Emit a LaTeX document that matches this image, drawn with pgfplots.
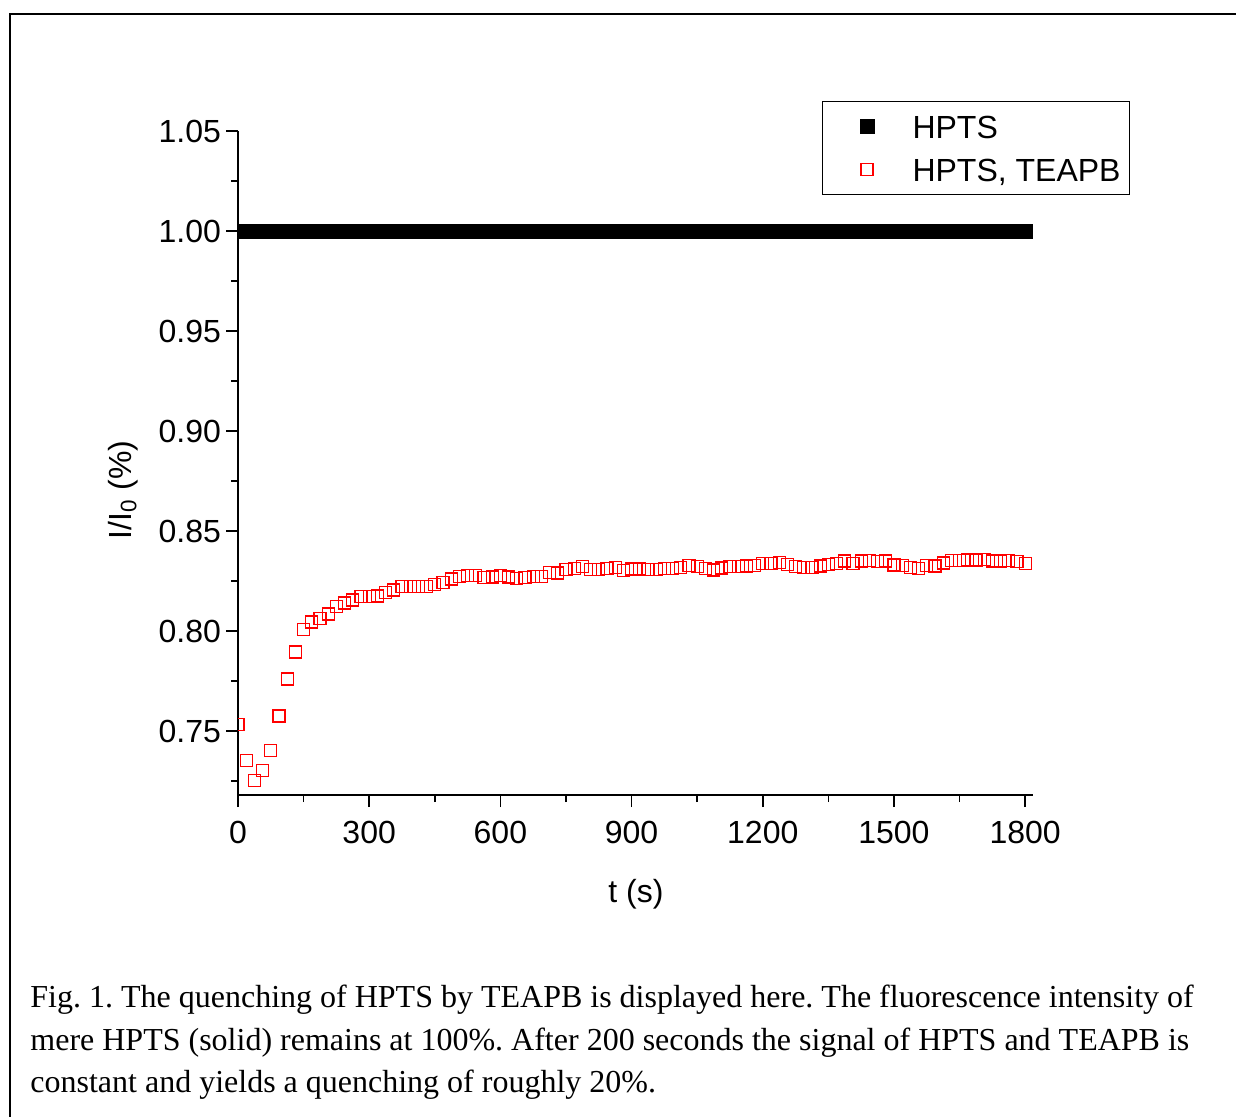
\documentclass[border=0pt]{standalone}
\usepackage{pgfplots}
\pgfplotsset{compat=1.18}
\usepackage{pgfplotstable}
\usepackage{fontspec}
\setmainfont{Liberation Serif}
\newfontfamily\arial{Liberation Sans}
\newcommand\lab{\arial\fontsize{16}{19}\selectfont}
\newcommand\capfont{\fontsize{16}{21.5}\selectfont}
\frenchspacing

\pgfplotstableread{
t hpts teapb
0 1 0.7533
18.75 1 0.7353
37.5 1 0.7253
56.25 1 0.7303
75 1 0.7403
93.75 1 0.7575
112.5 1 0.7760
131.25 1 0.7895
150 1 0.8007
168.75 1 0.8045
187.5 1 0.8062
206.25 1 0.8085
225 1 0.8121
243.75 1 0.8140
262.5 1 0.8155
281.25 1 0.8172
300 1 0.8172
318.75 1 0.8175
337.5 1 0.8192
356.25 1 0.8205
375 1 0.8222
393.75 1 0.8222
412.5 1 0.8222
431.25 1 0.8222
450 1 0.8232
468.75 1 0.8242
487.5 1 0.8260
506.25 1 0.8272
525 1 0.8277
543.75 1 0.8278
562.5 1 0.8268
581.25 1 0.8270
600 1 0.8278
618.75 1 0.8270
637.5 1 0.8263
656.25 1 0.8268
675 1 0.8273
693.75 1 0.8273
712.5 1 0.8292
731.25 1 0.8290
750 1 0.8308
768.75 1 0.8312
787.5 1 0.8322
806.25 1 0.8308
825 1 0.8308
843.75 1 0.8313
862.5 1 0.8317
881.25 1 0.8303
900 1 0.8310
918.75 1 0.8310
937.5 1 0.8308
956.25 1 0.8308
975 1 0.8313
993.75 1 0.8313
1012.5 1 0.8318
1031.25 1 0.8328
1050 1 0.8323
1068.75 1 0.8312
1087.5 1 0.8305
1106.25 1 0.8315
1125 1 0.8322
1143.75 1 0.8323
1162.5 1 0.8325
1181.25 1 0.8328
1200 1 0.8338
1218.75 1 0.8338
1237.5 1 0.8342
1256.25 1 0.8332
1275 1 0.8323
1293.75 1 0.8318
1312.5 1 0.8318
1331.25 1 0.8325
1350 1 0.8333
1368.75 1 0.8338
1387.5 1 0.8350
1406.25 1 0.8338
1425 1 0.8350
1443.75 1 0.8352
1462.5 1 0.8347
1481.25 1 0.8350
1500 1 0.8330
1518.75 1 0.8327
1537.5 1 0.8318
1556.25 1 0.8313
1575 1 0.8327
1593.75 1 0.8325
1612.5 1 0.8340
1631.25 1 0.8353
1650 1 0.8353
1668.75 1 0.8355
1687.5 1 0.8355
1706.25 1 0.8357
1725 1 0.8350
1743.75 1 0.8350
1762.5 1 0.8353
1781.25 1 0.8348
1800 1 0.8338
}\data

\pgfplotsset{
  legmark/.style={legend image code/.code={%
    \path (0pt,0pt) (40pt,0pt);
    \draw[mark repeat=2,mark phase=2,##1] plot coordinates {(0pt,0pt) (19.5pt,0pt) (40pt,0pt)};}},
}

\begin{document}
\begin{tikzpicture}
\useasboundingbox (0pt,0pt) rectangle (618pt,558pt);
\draw[line width=1pt] (5pt,-2pt) -- (5pt,551pt) -- (620pt,551pt);
\begin{axis}[
  at={(119pt,160.5pt)}, anchor=south west,
  scale only axis, width=397.5pt, height=332pt,
  xmin=0, xmax=1818, ymin=0.718, ymax=1.05,
  axis x line=bottom, axis y line=left,
  axis line style={-, line width=0.8pt},
  tick style={line width=0.8pt, black},
  tick align=outside,
  major tick length=6pt, minor tick length=3.5pt,
  xtick={0,300,600,900,1200,1500,1800},
  minor xtick={150,450,750,1050,1350,1650},
  ytick={0.75,0.8,0.85,0.9,0.95,1.0,1.05},
  minor ytick={0.725,0.775,0.825,0.875,0.925,0.975,1.025},
  /pgf/number format/assume math mode=true,
  /pgf/number format/1000 sep={},
  tick label style={font=\lab},
  xticklabel style={yshift=-3.5pt},
  yticklabel style={/pgf/number format/fixed, /pgf/number format/fixed zerofill, /pgf/number format/precision=2, xshift=1pt},
  xlabel={t (s)},
  ylabel={I/I\textsubscript{0} (\%)},
  label style={font=\lab},
  xlabel style={at={(axis description cs:0.5006,-0.1500)}, anchor=center},
  ylabel style={at={(axis description cs:-0.1447,0.459)}, anchor=center, rotate=0},
  clip marker paths=true,
  legend cell align=left,
  legend style={at={(0.7346,1.0452)}, anchor=north west, draw=black, line width=0.5pt,
    font=\lab, inner xsep=2.5pt, inner ysep=4.5pt, row sep=5.5pt,
    nodes={inner sep=2pt, text height=12pt, text depth=0pt}},
]
\addplot[only marks, legmark, black, mark=square*, mark size=3.6pt, mark options={fill=black, draw=black, line width=0.3pt}] table[x=t,y=hpts]{\data};
\addlegendentry{HPTS}
\addplot[only marks, legmark, red, mark=square, mark size=3.0pt, mark options={draw=red, fill=none, line width=0.6pt}] table[x=t,y=teapb]{\data};
\addlegendentry{HPTS, TEAPB}
\end{axis}
\node[anchor=base west, inner sep=0pt, font=\capfont] at (15pt,54.5pt) {Fig. 1. The quenching of HPTS by TEAPB is displayed here. The fluorescence intensity of};
\node[anchor=base west, inner sep=0pt, font=\capfont] at (15pt,33pt) {mere HPTS (solid) remains at 100\%. After 200 seconds the signal of HPTS and TEAPB is};
\node[anchor=base west, inner sep=0pt, font=\capfont] at (15pt,11.7pt) {constant and yields a quenching of roughly 20\%.};
\end{tikzpicture}
\end{document}
